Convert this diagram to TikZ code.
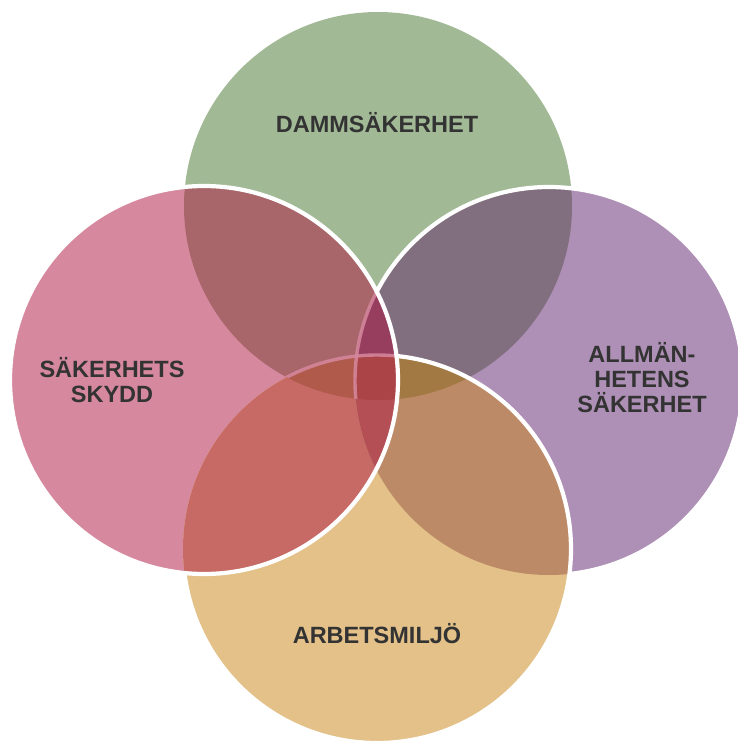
\documentclass[tikz,border=0pt]{standalone}
\usepackage{fontspec}
\setmainfont{Liberation Sans}
\usepackage{xcolor}
\usepackage{tikz}
\definecolor{ink}{HTML}{333333}
\definecolor{dam}{HTML}{A2B996}
\definecolor{skydd}{HTML}{D6889E}
\definecolor{allm}{HTML}{AE90B6}
\definecolor{arb}{HTML}{E3C189}
\definecolor{dp}{HTML}{A8666B}
\definecolor{da}{HTML}{816F80}
\definecolor{sa}{HTML}{C76A66}
\definecolor{aa}{HTML}{BC8A66}
\definecolor{dpa}{HTML}{973E5F}
\definecolor{dsa}{HTML}{B05A4B}
\definecolor{daa}{HTML}{A27943}
\definecolor{saa}{HTML}{B44F56}
\definecolor{all}{HTML}{AB4447}
\tikzset{
  rim/.style={draw=white, line width=4.2pt},
  ghost/.style={draw=skydd, line width=3.4pt, opacity=0.85},
  lab/.style={text=ink, font=\bfseries\fontsize{23.5}{25}\selectfont, align=center},
}

\begin{document}
\begin{tikzpicture}[x=1pt,y=-1pt]
  \def\r{194pt}
  \useasboundingbox (0,0) rectangle (737,744);
  \coordinate (G) at (378,206);
  \coordinate (P) at (204,380);
  \coordinate (L) at (549,381);
  \coordinate (O) at (377,549);
  % one circle
  \fill[dam] (G) circle (\r);
  \fill[skydd] (P) circle (\r);
  \fill[allm] (L) circle (\r);
  \fill[arb] (O) circle (\r);
  % two circles
  \begin{scope}
    \clip (G) circle (\r);
    \fill[dp] (P) circle (\r);
    \fill[da] (L) circle (\r);
  \end{scope}
  \begin{scope}
    \clip (O) circle (\r);
    \fill[sa] (P) circle (\r);
    \fill[aa] (L) circle (\r);
  \end{scope}
  % three circles
  \begin{scope}
    \clip (G) circle (\r);
    \begin{scope}
      \clip (P) circle (\r);
      \fill[dpa] (L) circle (\r);
      \fill[dsa] (O) circle (\r);
    \end{scope}
    \begin{scope}
      \clip (L) circle (\r);
      \fill[daa] (O) circle (\r);
    \end{scope}
  \end{scope}
  \begin{scope}
    \clip (P) circle (\r);
    \clip (L) circle (\r);
    \fill[saa] (O) circle (\r);
    \clip (O) circle (\r);
    \fill[all] (G) circle (\r);
  \end{scope}
  % borders seen through the pink circle
  \begin{scope}
    \clip (G) circle (\r);
    \clip (P) circle (\r);
    \draw[ghost] (L) circle (\r);
    \draw[ghost] (O) circle (\r);
  \end{scope}
  % white borders
  \begin{scope}[even odd rule]
    \clip (-20,-20) rectangle (800,800) (P) circle (\r);
    \draw[rim] (O) circle (\r);
    \begin{scope}[even odd rule]
      \clip (-20,-20) rectangle (800,800) (O) circle (\r);
      \draw[rim] (L) circle (\r);
    \end{scope}
  \end{scope}
  \draw[rim] (P) circle (\r);
  % labels
  \node[lab] (damt) at (377,123) {DAMMSÄKERHET};
  \node[lab] (skyddt) at (112,380) {SÄKERHETS\\SKYDD};
  \node[lab] (allmt) at (642,378) {ALLMÄN-\\HETENS\\SÄKERHET};
  \node[lab] (arbt) at (377,634) {ARBETSMILJÖ};
\end{tikzpicture}
\end{document}
